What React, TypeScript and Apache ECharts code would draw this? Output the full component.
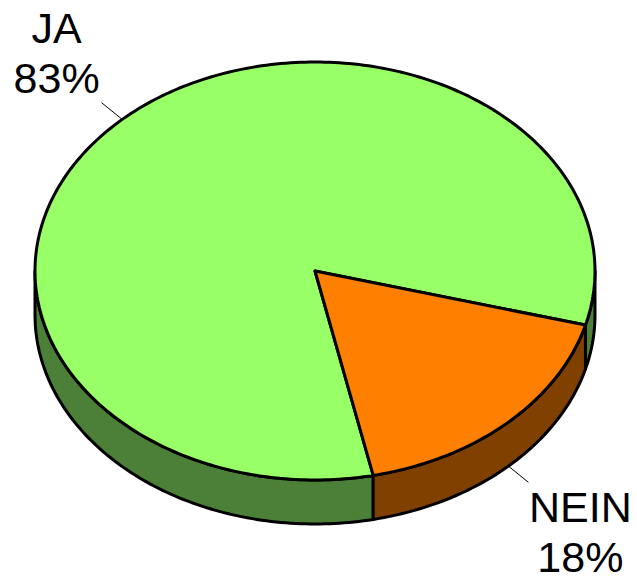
import React, { useEffect, useRef } from "react";
import * as echarts from "echarts";

const categories = ["JA", "NEIN"];
const values = [82.5, 17.5];
const topColors = ["#99FF66", "#FF8000"];
const sideColors = ["#4C7F38", "#804000"];

const CX = 315;
const CY = 271;
const RX = 280;
const RY = 209;
const DEPTH = 44;
const START = 78;

const total = values.reduce((s, v) => s + v, 0);
const sliceAngles = (i: number): [number, number] => {
  let acc = 0;
  for (let k = 0; k < i; k++) acc += values[k];
  const a = START + (acc / total) * 360;
  const b = START + ((acc + values[i]) / total) * 360;
  return [a, b];
};
const pt = (deg: number, dy = 0): [number, number] => {
  const r = (deg * Math.PI) / 180;
  return [CX + RX * Math.cos(r), CY + RY * Math.sin(r) + dy];
};
const arc = (a: number, b: number, dy = 0) => {
  const pts: [number, number][] = [];
  const n = Math.max(2, Math.ceil(Math.abs(b - a)));
  for (let k = 0; k <= n; k++) pts.push(pt(a + ((b - a) * k) / n, dy));
  return pts;
};

export default function App() {
  const ref = useRef<HTMLDivElement>(null);
  useEffect(() => {
    if (!ref.current) return;
    const chart = echarts.init(ref.current, undefined, { renderer: "svg" });
    const data = values.map((v, i) => ({ name: categories[i], value: v }));
    chart.setOption({
      animation: false,
      series: [
        {
          type: "custom",
          coordinateSystem: "none",
          data,
          renderItem: (params: any) => {
            const i = params.dataIndex;
            const [a, b] = sliceAngles(i);
            const children: any[] = [];
            [[0, 180], [360, 540]].forEach(([lo, hi]) => {
              const s = Math.max(a, lo);
              const e = Math.min(b, hi);
              if (e > s) {
                const top = arc(s, e);
                const bot = arc(e, s, DEPTH);
                children.push({
                  type: "polygon",
                  shape: { points: [...top, ...bot] },
                  style: { fill: sideColors[i], stroke: "#000", lineWidth: 3, lineJoin: "round" },
                });
              }
            });
            return { type: "group", children };
          },
        },
        {
          type: "custom",
          coordinateSystem: "none",
          data,
          renderItem: (params: any) => {
            const i = params.dataIndex;
            const [a, b] = sliceAngles(i);
            const children: any[] = [];
            children.push({
              type: "polygon",
              shape: { points: [[CX, CY], ...arc(a, b)] },
              style: { fill: topColors[i], stroke: "#000", lineWidth: 3, lineJoin: "round" },
            });
            const mid = (a + b) / 2;
            const r = (mid * Math.PI) / 180;
            const c = Math.cos(r);
            const s = Math.sin(r);
            const anchor = pt(mid, s > 0 ? DEPTH - 1 : 0);
            const end: [number, number] = [anchor[0] + c * 30, anchor[1] + s * 23];
            children.push({
              type: "line",
              shape: { x1: anchor[0], y1: anchor[1], x2: end[0], y2: end[1] },
              style: { stroke: "#000", lineWidth: 1 },
            });
            children.push({
              type: "text",
              x: end[0] + (c > 0 ? 52 : -45),
              y: end[1] + Math.sign(s) * 50,
              style: {
                text: categories[i] + "\n" + Math.round((values[i] / total) * 100) + "%",
                fontSize: 43,
                lineHeight: 50,
                fontFamily: "Liberation Sans, Arial, sans-serif",
                fill: "#000",
                align: "center",
                verticalAlign: "middle",
              },
            });
            return { type: "group", children };
          },
        },
      ],
    });
    return () => chart.dispose();
  }, []);
  return (
    <div
      ref={ref}
      style={{ position: "fixed", left: 0, top: 0, width: 637, height: 579, background: "#fff" }}
    />
  );
}
